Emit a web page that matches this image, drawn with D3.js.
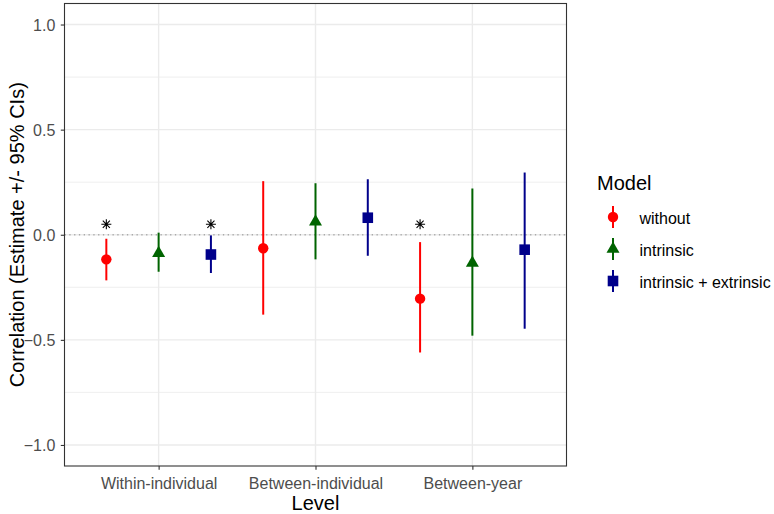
<!DOCTYPE html>
<html><head><meta charset="utf-8">
<script src="https://cdn.jsdelivr.net/npm/d3@7"></script>
<style>body{margin:0;background:#fff}svg{display:block;font-family:"Liberation Sans",Arial,sans-serif}</style>
</head><body><svg id="c" width="774" height="514"></svg>
<script>
const levels = ["Within-individual", "Between-individual", "Between-year"];
const models = ["without", "intrinsic", "intrinsic + extrinsic"];
const colors = ["#ff0000", "#006400", "#00008b"];
const estWithout   = [-0.117, -0.064, -0.304];
const lowWithout   = [-0.217, -0.380, -0.560];
const highWithout  = [-0.019, 0.255, -0.035];
const estIntr      = [-0.088, 0.062, -0.134];
const lowIntr      = [-0.176, -0.117, -0.480];
const highIntr     = [0.010, 0.245, 0.220];
const estIntrExt   = [-0.094, 0.081, -0.071];
const lowIntrExt   = [-0.182, -0.100, -0.447];
const highIntrExt  = [-0.003, 0.264, 0.296];
const signif = [[true,false,true],[false,false,false],[true,false,false]]; // [model][level]
const yTicks = [-1.0, -0.5, 0.0, 0.5, 1.0];
const starY = 0.05;

const series = [
  {est: estWithout, low: lowWithout, high: highWithout},
  {est: estIntr, low: lowIntr, high: highIntr},
  {est: estIntrExt, low: lowIntrExt, high: highIntrExt}
];

const FONT = '"Liberation Sans",Arial,sans-serif';
const svg = d3.select("#c");
const L = 64.5, R = 566.5, T = 3.5, B = 466;
const step = (R-L)/3.2;
const xc = d3.scalePoint().domain(levels).range([L + step*0.6, R - step*0.6]);
const dodge = d3.scaleBand().domain(models).range([-step/2, step/2]);
const y = d3.scaleLinear().domain([-1.1, 1.1]).range([B, T]);

// grid
const g = svg.append("g");
const minor = [-0.75, -0.25, 0.25, 0.75];
g.selectAll(".mn").data(minor).enter().append("line")
  .attr("x1", L).attr("x2", R).attr("y1", d=>y(d)).attr("y2", d=>y(d))
  .attr("stroke", "#ebebeb").attr("stroke-width", 0.8);
g.selectAll(".mj").data(yTicks).enter().append("line")
  .attr("x1", L).attr("x2", R).attr("y1", d=>y(d)).attr("y2", d=>y(d))
  .attr("stroke", "#ebebeb").attr("stroke-width", 1.4);
g.selectAll(".vx").data(levels).enter().append("line")
  .attr("x1", d=>xc(d)).attr("x2", d=>xc(d)).attr("y1", T).attr("y2", B)
  .attr("stroke", "#ebebeb").attr("stroke-width", 1.4);

// zero line
svg.append("line").attr("x1", L).attr("x2", R).attr("y1", y(0)).attr("y2", y(0))
  .attr("stroke", "#aaaaaa").attr("stroke-width", 1.3).attr("stroke-dasharray", "1.3,3.5");

function drawShape(sel, mi, cx, cy, col) {
  if (mi === 0) {
    sel.append("circle").attr("cx", cx).attr("cy", cy).attr("r", 5.2).attr("fill", col);
  } else if (mi === 1) {
    const r = 7.5, xo = r*Math.sqrt(3)/2, yo = r/2;
    sel.append("path").attr("d", `M${cx},${cy-r}L${cx+xo},${cy+yo}L${cx-xo},${cy+yo}Z`).attr("fill", col);
  } else {
    sel.append("rect").attr("x", cx-5.3).attr("y", cy-5.3).attr("width", 10.6).attr("height", 10.6).attr("fill", col);
  }
}

const marks = svg.append("g");
series.forEach((s, mi) => {
  levels.forEach((lv, li) => {
    const cx = xc(lv) + dodge(models[mi]) + dodge.bandwidth()/2;
    marks.append("line").attr("x1", cx).attr("x2", cx)
      .attr("y1", y(s.low[li])).attr("y2", y(s.high[li]))
      .attr("stroke", colors[mi]).attr("stroke-width", 2);
    drawShape(marks, mi, cx, y(s.est[li]), colors[mi]);
    if (signif[mi][li]) {
      const sy = y(starY), r = 5;
      let p = "";
      for (let k = 0; k < 4; k++) {
        const a = k * Math.PI/4;
        p += `M${cx - r*Math.cos(a)},${sy - r*Math.sin(a)}L${cx + r*Math.cos(a)},${sy + r*Math.sin(a)}`;
      }
      marks.append("path").attr("d", p).attr("stroke", "#000").attr("stroke-width", 1.1).attr("fill", "none");
    }
  });
});

// border
svg.append("rect").attr("x", L).attr("y", T).attr("width", R-L).attr("height", B-T)
  .attr("fill", "none").attr("stroke", "#333").attr("stroke-width", 1.1);

// axes
const yAxis = svg.append("g").attr("transform", `translate(${L},0)`)
  .call(d3.axisLeft(y).tickValues(yTicks).tickFormat(d3.format(".1f")).tickSize(3.7).tickPadding(5.5));
yAxis.select(".domain").remove();
yAxis.selectAll("line").attr("stroke", "#333").attr("stroke-width", 1.1);
yAxis.selectAll("text").attr("fill", "#4d4d4d").style("font-size", "16px").style("font-family", FONT)
  .attr("dy", "0.36em");

const xAxis = svg.append("g").attr("transform", `translate(0,${B})`)
  .call(d3.axisBottom(xc).tickSize(3.7));
xAxis.select(".domain").remove();
xAxis.selectAll("line").attr("stroke", "#333").attr("stroke-width", 1.1);
xAxis.selectAll("text").attr("fill", "#4d4d4d").style("font-size", "16px").style("font-family", FONT)
  .attr("y", 23).attr("dy", "0");

svg.append("text").attr("x", (L+R)/2).attr("y", 510).attr("text-anchor", "middle")
  .style("font-size", "20px").attr("fill", "#000").text("Level");
svg.append("text").attr("transform", `translate(23.5,${(T+B)/2}) rotate(-90)`).attr("text-anchor", "middle")
  .style("font-size", "20px").attr("fill", "#000").text("Correlation (Estimate +/- 95% CIs)");

// legend
const lg = svg.append("g");
lg.append("text").attr("x", 597).attr("y", 189.5).style("font-size", "20px").attr("fill", "#000").text("Model");
const keyY = [217, 249, 281];
models.forEach((m, i) => {
  const kx = 613, ky = keyY[i];
  lg.append("line").attr("x1", kx).attr("x2", kx).attr("y1", ky-11).attr("y2", ky+11)
    .attr("stroke", colors[i]).attr("stroke-width", 2);
  drawShape(lg, i, kx, ky, colors[i]);
  lg.append("text").attr("x", 639.5).attr("y", ky+6.5).style("font-size", "16px").attr("fill", "#000").text(m);
});
</script></body></html>
